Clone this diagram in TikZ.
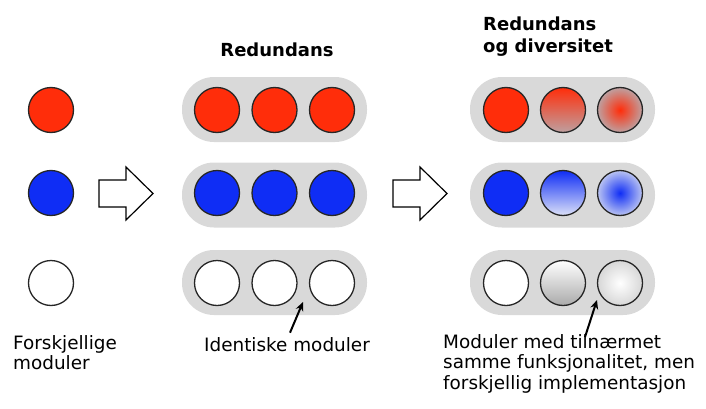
\documentclass[tikz,border=0pt]{standalone}
\usepackage{fontspec}
\setmainfont{DejaVu Sans}
\usetikzlibrary{arrows.meta}
\usetikzlibrary{positioning}
\usetikzlibrary{calc}

\definecolor{modred}{RGB}{255,45,10}
\definecolor{modredgray}{RGB}{190,160,160}
\definecolor{modblue}{RGB}{15,45,245}
\definecolor{modbluelight}{RGB}{220,225,248}
\definecolor{modblueouter}{RGB}{185,195,242}
\definecolor{modgray}{RGB}{170,170,170}
\definecolor{modgraylight}{RGB}{215,215,215}
\definecolor{pillgray}{RGB}{217,217,217}

\tikzset{
	modul/.style={circle, draw=black!85, line width=1.3pt, minimum size=45pt, inner sep=0pt},
	pill/.style={rectangle, rounded corners=32pt, fill=pillgray, minimum width=185pt, minimum height=65pt},
	tekst/.style={font=\fontsize{18.4}{20.5}\selectfont, align=left, inner sep=0pt},
	tittel/.style={font=\bfseries\fontsize{18}{22}\selectfont, align=left, inner sep=0pt},
	pil/.style={line width=2pt, -{Stealth[length=9pt, width=8pt]}},
	blokkpil/.style={draw, fill=white, line width=1.2pt, line join=miter}
}

\begin{document}
\begin{tikzpicture}[x=1pt, y=1pt]
	\useasboundingbox (0,0) rectangle (706,408);

	% forskjellige moduler
	\node[modul, fill=modred] (ar) at (51,298) {};
	\node[modul, fill=modblue] (ab) at (51,215) {};
	\node[modul, fill=white] (aw) at (51,125) {};
	\node[tekst, anchor=north west] (lblforsk) at (13,73) {Forskjellige\\moduler};

	\draw[blokkpil] (99,201) -- (126,201) -- (126,188) -- (153,214.5) -- (126,241) -- (126,228) -- (99,228) -- cycle;

	% redundans
	\node[tittel] (titred) at (277,358) {Redundans};
	\node[pill] (mr) at (274.5,298.5) {};
	\node[pill] (mb) at (274.5,213) {};
	\node[pill] (mw) at (274.5,125.5) {};
	\foreach \i/\x in {1/217,2/274.5,3/332} {
		\node[modul, fill=modred] (mr\i) at (\x,298) {};
		\node[modul, fill=modblue] (mb\i) at (\x,215) {};
		\node[modul, fill=white] (mw\i) at (\x,125) {};
	}
	\node[tekst] (lblident) at (287,63) {Identiske moduler};
	\coordinate (spissident) at (303,106);
	\draw[pil] ([xshift=3pt, yshift=5pt]lblident.north) -- (spissident);

	\draw[blokkpil] (393,201) -- (420,201) -- (420,188) -- (447,214.5) -- (420,241) -- (420,228) -- (393,228) -- cycle;

	% redundans og diversitet
	\node[tittel, anchor=north west] (titdiv) at (483,391) {Redundans\\og diversitet};
	\node[pill] (dr) at (562.5,298.5) {};
	\node[pill] (db) at (562.5,213) {};
	\node[pill] (dw) at (562.5,125.5) {};

	\node[modul, fill=modred] (dr1) at (506,298) {};
	\node[modul, top color=modred, bottom color=modredgray] (dr2) at (563,298) {};
	\node[modul, inner color=modred, outer color=modredgray] (dr3) at (620,298) {};

	\node[modul, fill=modblue] (db1) at (506,215) {};
	\node[modul, top color=modblue, bottom color=modbluelight] (db2) at (563,215) {};
	\node[modul, inner color=modblue, outer color=modblueouter] (db3) at (620,215) {};

	\node[modul, fill=white] (dw1) at (506,125) {};
	\node[modul, top color=white, bottom color=modgray] (dw2) at (563,125) {};
	\node[modul, inner color=white, outer color=modgraylight] (dw3) at (620,125) {};

	\node[tekst, anchor=north west] (lblimpl) at (443,74) {Moduler med tilnærmet\\samme funksjonalitet, men\\forskjellig implementasjon};
	\coordinate (spissimpl) at (597,108);
	\draw[pil] ([xshift=142pt, yshift=-3pt]lblimpl.north west) -- (spissimpl);
\end{tikzpicture}
\end{document}
